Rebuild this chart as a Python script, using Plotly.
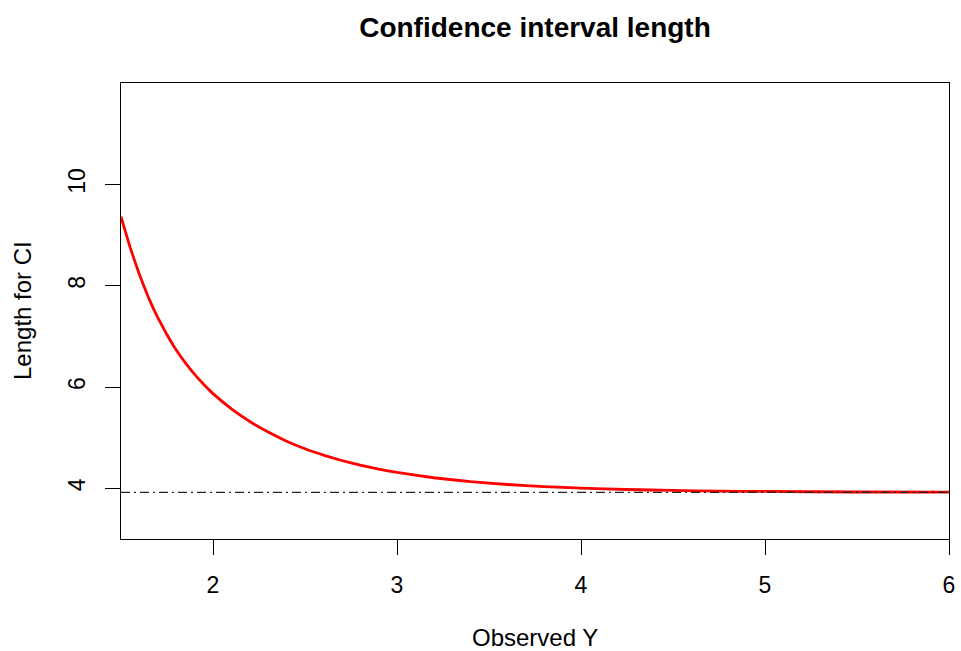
import plotly.graph_objects as go

# Data
observed_y = [1.5, 1.55, 1.6, 1.65, 1.7, 1.75, 1.8, 1.85, 1.9, 1.95, 2.0, 2.1, 2.2, 2.3,
              2.4, 2.5, 2.6, 2.7, 2.8, 2.9, 3.0, 3.2, 3.4, 3.6, 3.8, 4.0, 4.25, 4.5,
              4.75, 5.0, 5.5, 6.0]
ci_length = [9.36, 8.75, 8.22, 7.76, 7.37, 7.03, 6.73, 6.475, 6.25, 6.05, 5.87, 5.57, 5.32,
             5.11, 4.93, 4.78, 4.656, 4.549, 4.458, 4.38, 4.315, 4.209, 4.132, 4.076, 4.034,
             4.004, 3.977, 3.958, 3.946, 3.938, 3.928, 3.924]
reference_length = 3.92
x_ticks = [2, 3, 4, 5, 6]
y_ticks = [4, 6, 8, 10]

FONT = "Liberation Sans, Arial, Helvetica, sans-serif"

fig = go.Figure()
fig.add_trace(go.Scatter(
    x=observed_y, y=ci_length, mode="lines",
    line=dict(color="#ff0000", width=2.8, shape="spline", smoothing=0.3),
    hoverinfo="skip", showlegend=False,
))

fig.add_shape(type="line", xref="paper", yref="y", x0=0, x1=1,
              y0=reference_length, y1=reference_length,
              line=dict(color="#222222", width=1.4, dash="9px,4px,2px,4px"),
              layer="above")

axis_common = dict(
    showgrid=False, zeroline=False, showline=True, linecolor="black", linewidth=1,
    mirror=True, ticks="outside", ticklen=15, tickwidth=1, tickcolor="black",
    tickfont=dict(family=FONT, size=23, color="black"), automargin=False,
)

W, H = 961, 651
fig.update_layout(
    width=W, height=H,
    margin=dict(l=121, r=W - 949, t=83, b=H - 539),
    paper_bgcolor="white", plot_bgcolor="white",
    xaxis=dict(range=[1.5, 6], tickvals=x_ticks, ticktext=[str(v) for v in x_ticks],
               ticklabelstandoff=10, **axis_common),
    yaxis=dict(range=[3, 12], tickvals=y_ticks, ticktext=[str(v) for v in y_ticks],
               tickangle=-90, ticklabelstandoff=11, **axis_common),
    title=dict(text="<b>Confidence interval length</b>", x=535 / W, xanchor="center",
               y=(H - 27) / H, yanchor="middle", yref="container",
               font=dict(family=FONT, size=28, color="black")),
    annotations=[
        dict(text="Observed Y", xref="paper", yref="paper", x=0.5, y=0,
             xanchor="center", yanchor="middle", yshift=-98, showarrow=False,
             font=dict(family=FONT, size=24, color="black")),
        dict(text="Length for CI", xref="paper", yref="paper", x=0, y=0.5,
             xanchor="center", yanchor="middle", xshift=-99, textangle=-90,
             showarrow=False, font=dict(family=FONT, size=24, color="black")),
    ],
)

fig.write_html(
    "out.html",
    config={"displayModeBar": False},
    post_script=("document.documentElement.style.margin='0';"
                 "document.body.style.margin='0';"
                 "document.documentElement.style.overflow='hidden';"
                 "document.body.style.overflow='hidden';"),
)
